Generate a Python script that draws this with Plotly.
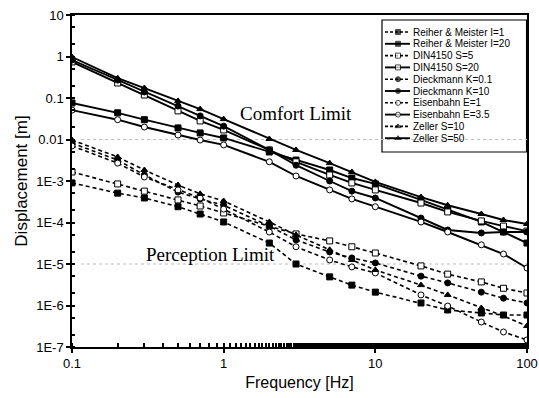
import plotly.graph_objects as go

freq = [0.1, 0.2, 0.3, 0.5, 0.7, 1, 2, 3, 5, 7, 10, 20, 30, 50, 70, 100]

reiher_i1 = [9.0e-4, 5.1e-4, 3.9e-4, 2.4e-4, 1.6e-4, 1.03e-4, 3.2e-5, 1.0e-5, 4.9e-6, 3.1e-6,
             2.1e-6, 1.15e-6, 7.8e-7, 6.6e-7, 5.9e-7, 5.9e-7]
reiher_i20 = [0.076, 0.044, 0.030, 0.019, 0.0144, 0.0109, 5.0e-3, 3.2e-3, 1.84e-3, 1.18e-3,
              8.5e-4, 3.5e-4, 2.0e-4, 1.03e-4, 5.9e-5, 3.2e-5]
din_s5 = [1.65e-3, 8.5e-4, 5.7e-4, 3.5e-4, 2.5e-4, 1.7e-4, 8.2e-5, 5.3e-5, 3.6e-5, 2.6e-5,
          1.84e-5, 9.0e-6, 5.7e-6, 3.7e-6, 2.6e-6, 2.0e-6]
din_s20 = [0.74, 0.23, 0.118, 0.049, 0.028, 0.017, 5.6e-3, 2.9e-3, 1.4e-3, 9.0e-4,
           6.1e-4, 2.95e-4, 1.8e-4, 1.09e-4, 8.2e-5, 6.2e-5]
dieck_k01 = [8.2e-3, 3.2e-3, 1.4e-3, 5.4e-4, 3.7e-4, 2.6e-4, 8.2e-5, 3.8e-5, 1.95e-5, 1.4e-5,
             1.06e-5, 5.1e-6, 3.5e-6, 2.1e-6, 1.5e-6, 1.15e-6]
dieck_k10 = [0.82, 0.27, 0.14, 0.064, 0.037, 0.021, 5.6e-3, 2.4e-3, 1.0e-3, 5.7e-4,
             3.9e-4, 1.28e-4, 6.6e-5, 5.6e-5, 5.9e-5, 5.9e-5]
eisen_e1 = [7.0e-3, 2.7e-3, 1.25e-3, 6.1e-4, 3.9e-4, 2.1e-4, 5.9e-5, 2.6e-5, 1.25e-5, 8.5e-6,
            6.1e-6, 1.8e-6, 9.7e-7, 4.0e-7, 2.3e-7, 1.48e-7]
eisen_e35 = [0.051, 0.030, 0.020, 0.0128, 9.7e-3, 7.4e-3, 2.9e-3, 1.32e-3, 6.1e-4, 3.7e-4,
             2.4e-4, 1.03e-4, 5.9e-5, 2.9e-5, 1.74e-5, 8.0e-6]
zeller_s10 = [9.7e-3, 3.8e-3, 1.84e-3, 8.0e-4, 4.9e-4, 3.3e-4, 1.03e-4, 5.0e-5, 2.2e-5, 1.25e-5,
              7.2e-6, 3.1e-6, 1.8e-6, 8.7e-7, 5.6e-7, 3.2e-7]
zeller_s50 = [0.97, 0.30, 0.174, 0.085, 0.054, 0.031, 0.0103, 5.6e-3, 2.7e-3, 1.65e-3,
              9.5e-4, 4.1e-4, 2.6e-4, 1.6e-4, 1.15e-4, 9.2e-5]

series_names = ["Reiher & Meister I=1", "Reiher & Meister I=20", "DIN4150 S=5", "DIN4150 S=20",
                "Dieckmann K=0.1", "Dieckmann K=10", "Eisenbahn E=1", "Eisenbahn E=3.5",
                "Zeller S=10", "Zeller S=50"]
series_values = [reiher_i1, reiher_i20, din_s5, din_s20, dieck_k01, dieck_k10,
                 eisen_e1, eisen_e35, zeller_s10, zeller_s50]
series_symbols = ["square", "square", "square", "square", "circle", "circle",
                  "circle", "circle", "triangle-up", "triangle-up"]
series_hollow = [False, False, True, True, False, False, True, True, False, False]
series_dashed = [True, False, True, False, True, False, True, False, True, False]

x_tickvals = [0.1, 1, 10, 100]
x_ticktext = ["0.1", "1", "10", "100"]
y_tickvals = [10, 1, 0.1, 0.01, 1e-3, 1e-4, 1e-5, 1e-6, 1e-7]
y_ticktext = ["10", "1", "0.1", "0.01", "1E-3", "1E-4", "1E-5", "1E-6", "1E-7"]
limit_levels = [1e-2, 1e-5]

# plot area in pixels (for the hand-built legend box)
W, H = 539, 398
ML, MR, MT, MB = 72, 12, 15, 51
PW, PH = W - ML - MR, H - MT - MB

def px_x(p):
    return (p - ML) / PW

def px_y(p):
    return 1 - (p - MT) / PH

serif = "Liberation Serif, Times New Roman, serif"
sans = "Arial, Liberation Sans, sans-serif"

def marker_style(sym, hollow, size):
    return dict(symbol=sym, size=size, color="white" if hollow else "black",
                line=dict(color="black", width=1))

fig = go.Figure()
for name, vals, sym, hollow, dashed in zip(series_names, series_values, series_symbols,
                                           series_hollow, series_dashed):
    style_line = dict(color="black", width=1.6 if dashed else 1.9,
                      dash="4px,3px" if dashed else "solid")
    fig.add_trace(go.Scatter(x=freq, y=vals, name=name, mode="lines+markers",
                             line=style_line, marker=marker_style(sym, hollow, 6),
                             showlegend=False))

# legend, drawn on an overlay axis spanning the plot area in 0..1 units
leg_x0, leg_x1 = px_x(382), 0.999
leg_y1, leg_y0 = px_y(20), px_y(152)
fig.add_shape(type="rect", xref="paper", yref="paper", x0=leg_x0, x1=leg_x1, y0=leg_y0, y1=leg_y1,
              line=dict(color="black", width=1.2), fillcolor="white", layer="below")
for i, (name, sym, hollow, dashed) in enumerate(zip(series_names, series_symbols,
                                                    series_hollow, series_dashed)):
    yy = px_y(32 + 11.8 * i)
    xa, xm, xb = px_x(385), px_x(398), px_x(410)
    ms = marker_style(sym, hollow, 5)
    ms["size"] = [0, 5, 0]
    fig.add_trace(go.Scatter(
        x=[xa, xm, xb], y=[yy, yy, yy], xaxis="x2", yaxis="y2", mode="lines+markers",
        line=dict(color="black", width=1.6 if dashed else 1.9, dash="3px,2px" if dashed else "solid"),
        marker=ms, showlegend=False, hoverinfo="skip"))
    fig.add_annotation(x=px_x(411), y=yy, xref="x2", yref="y2", text=name, showarrow=False,
                       xanchor="left", yanchor="middle", font=dict(family=sans, size=10, color="black"))

for lvl in limit_levels:
    fig.add_shape(type="line", xref="paper", x0=0.02, x1=1, yref="y", y0=lvl, y1=lvl,
                  line=dict(color="#bbbbbb", width=1, dash="dot"), layer="below")

fig.add_annotation(x=0.48, y=-1.38, xref="x", yref="y", text="Comfort Limit", showarrow=False,
                   font=dict(family=serif, size=19, color="black"))
fig.add_annotation(x=-0.09, y=-4.78, xref="x", yref="y", text="Perception Limit", showarrow=False,
                   font=dict(family=serif, size=19, color="black"))

fig.update_layout(
    width=W, height=H,
    margin=dict(l=ML, r=MR, t=MT, b=MB, autoexpand=False),
    paper_bgcolor="white", plot_bgcolor="white",
    font=dict(family=sans, color="black"),
    showlegend=False,
    xaxis2=dict(overlaying="x", range=[0, 1], visible=False, fixedrange=True),
    yaxis2=dict(overlaying="y", range=[0, 1], visible=False, fixedrange=True),
)
fig.update_layout(xaxis=dict(
    type="log", range=[-1, 2], tickvals=x_tickvals, ticktext=x_ticktext,
    showline=True, linecolor="black", linewidth=1.5, mirror=True,
    ticks="outside", ticklen=4, tickwidth=1.5, tickcolor="black",
    minor=dict(ticks="inside", ticklen=4, tickcolor="black", showgrid=False),
    showgrid=False, zeroline=False, automargin=False,
    tickfont=dict(size=13), title=dict(text="Frequency [Hz]", font=dict(size=16), standoff=6)))
fig.update_layout(yaxis=dict(
    type="log", range=[-7, 1], tickvals=y_tickvals, ticktext=y_ticktext,
    showline=True, linecolor="black", linewidth=1.5, mirror=True,
    ticks="outside", ticklen=4, tickwidth=1.5, tickcolor="black",
    minor=dict(ticks="inside", ticklen=3, tickcolor="black", showgrid=False),
    showgrid=False, zeroline=False, automargin=False,
    tickfont=dict(size=13), title=dict(text="Displacement [m]", font=dict(size=17), standoff=4)))

fig.write_html("out.html")
